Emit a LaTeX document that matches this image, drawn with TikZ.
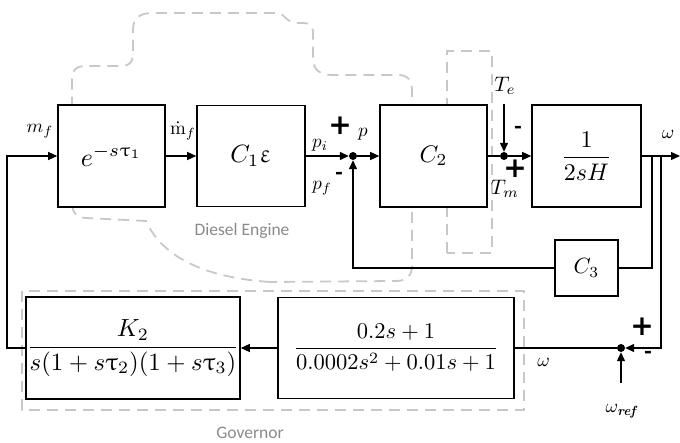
\documentclass[tikz,border=0pt]{standalone}
\usepackage{amsmath}
\usepackage{graphicx}
\usepackage{fontspec}
\usepackage{upgreek}
\newfontfamily\labfont{Carlito}
\newfontfamily\signfont{DejaVu Sans}
\usetikzlibrary{arrows.meta}
\definecolor{grpgray}{HTML}{C8C8C8}
\definecolor{txtgray}{HTML}{8A8A8A}
\newcommand{\mth}[2]{\scalebox{#1}{$\displaystyle #2$}}
\begin{document}
\begin{tikzpicture}[x=1pt,y=-1pt,
  blk/.style={draw,line width=1.6pt,fill=white,inner sep=0},
  sig/.style={line width=1.3pt},
  arr/.style={sig,-{Triangle[length=9pt,width=8pt]}},
  dot/.style={circle,fill=black,inner sep=0,minimum size=8pt},
  grp/.style={draw=grpgray,line width=1.8pt,dash pattern=on 11pt off 7pt},
  lab/.style={inner sep=0},
  plus/.style={inner sep=0,font=\signfont\bfseries\fontsize{28}{30}\selectfont},
  minus/.style={inner sep=0,font=\labfont\bfseries\fontsize{24}{26}\selectfont},
  grptxt/.style={inner sep=0,text=txtgray,font=\labfont\fontsize{17.5}{20}\selectfont}
]
\useasboundingbox (0,0) rectangle (680,443);
% group outlines
\draw[grp] (270,282) .. controls (196,277) and (160,252) .. (146,221)
  -- (86,218) .. controls (76,218) and (72,212) .. (72,202)
  -- (72,80) .. controls (72,70) and (76,66) .. (86,66)
  -- (120,66) .. controls (130,66) and (133,62) .. (133,52)
  -- (133,30) .. controls (133,18) and (140,13) .. (152,13)
  -- (278,13) .. controls (284,13) and (286,23) .. (298,23)
  -- (303,23) .. controls (310,23) and (313,26) .. (313,32)
  -- (313,58) .. controls (313,70) and (320,75) .. (332,75)
  -- (398,75) .. controls (408,75) and (412,80) .. (412,92)
  -- (412,266) .. controls (412,276) and (406,281) .. (396,281)
  -- (270,282);
\draw[grp] (447,253) -- (447,51) -- (492,51) -- (492,253) -- cycle;
\draw[grp] (22,291) rectangle (524,410);
\node[grptxt] (de) at (242,231) {Diesel Engine};
\node[grptxt] (gv) at (250,433) {Governor};
% blocks
\node[blk,minimum width=107pt,minimum height=102pt] (b1) at (111.5,156) {\mth{2.6}{e^{-s\uptau_1}}};
\node[blk,minimum width=108pt,minimum height=101pt] (b2) at (251,156) {\mth{2.5}{C_1\upvarepsilon}};
\node[blk,minimum width=107pt,minimum height=102pt] (c2) at (433.5,156) {\mth{2.4}{C_2}};
\node[blk,minimum width=109pt,minimum height=102pt] (h) at (586.5,156) {\mth{2.4}{\frac{\;\;1\;\;}{2sH}}};
\node[blk,minimum width=63pt,minimum height=56pt] (c3) at (586.5,268) {\mth{2.2}{C_3}};
\node[blk,minimum width=214pt,minimum height=102pt] (g1) at (133,348) {\mth{2.48}{\frac{K_2}{s(1+s\uptau_2)(1+s\uptau_3)}}};
\node[blk,minimum width=236pt,minimum height=101pt] (g2) at (396,348) {\mth{2.25}{\frac{0.2s+1}{0.0002s^2+0.01s+1}}};
% junctions
\node[dot] (jp) at (353,156) {};
\node[dot] (jt) at (504,156) {};
\node[dot] (jw) at (621,348) {};
\coordinate (te) at (504,104);
\coordinate (out) at (680,156);
\coordinate (br1) at (652,156);
\coordinate (br2) at (661,156);
\coordinate (wr) at (621,383);
\coordinate (fl) at (7,348);
% connectors
\draw[arr] (b1.east) -- (b2.west);
\draw[arr] (b2.east) -- (jp);
\draw[arr] (jp) -- (c2.west);
\draw[sig] (c2.east) -- (jt);
\draw[arr] (te) -- (jt);
\draw[arr] (jt) -- (h.west);
\draw[arr] (h.east) -- (out);
\draw[sig] (br1) |- (c3.east);
\draw[arr] (c3.west) -| (jp);
\draw[arr] (br2) |- (jw);
\draw[arr] (wr) -- (jw);
\draw[sig] (jw) -- (g2.east);
\draw[arr] (g2.west) -- (g1.east);
\draw[arr] (g1.west) -- (fl) |- (b1.west);
% labels
\node[lab] (lmf) at (40,131) {\mth{1.9}{m_f}};
\node[lab] (lmd) at (183,131) {\mth{1.9}{\dot{\mathrm{m}}_f}};
\node[lab] (lpi) at (320,145) {\mth{1.9}{p_i}};
\node[lab] (lpf) at (322,188) {\mth{1.9}{p_f}};
\node[lab] (lp) at (363,134) {\mth{1.9}{p}};
\node[plus] (s1) at (340,126) {+};
\node[minus] (s2) at (339,176) {-};
\node[lab] (lte) at (505,86) {\mth{2.1}{T_e}};
\node[minus] (s3) at (518,130) {-};
\node[plus] (s4) at (515,169) {+};
\node[lab] (ltm) at (505,189) {\mth{2.1}{T_m}};
\node[lab] (lw) at (668,134) {\mth{1.9}{\omega}};
\node[plus] (s5) at (642,327) {+};
\node[minus] (s6) at (648,355) {-};
\node[lab] (ldw) at (541,362) {\mth{1.9}{\mathit{\Delta}\omega}};
\node[lab] (lwr) at (622,411) {\mth{1.9}{\omega_{\textbf{\textit{ref}}}}};
\end{tikzpicture}
\end{document}
